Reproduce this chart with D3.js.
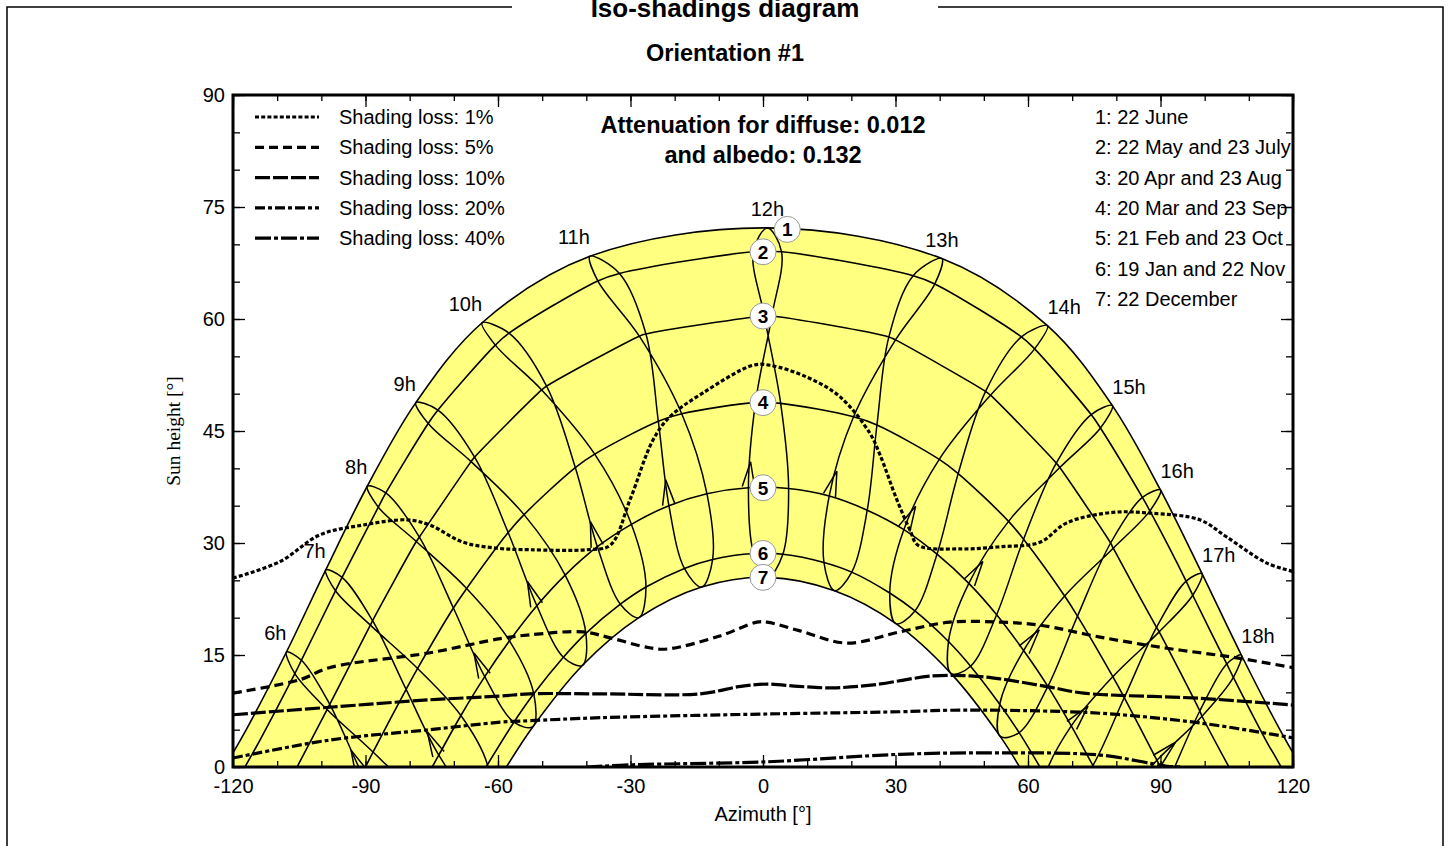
<!DOCTYPE html>
<html><head><meta charset="utf-8">
<script src="https://cdn.jsdelivr.net/npm/d3@7"></script>
<style>body{margin:0;background:#fff;overflow:hidden}</style>
</head><body>
<svg id="chart" width="1451" height="846"></svg>
<script>
// dates of the hour loops (Dec -> Nov) and the sun path they lie on
const dateNames = ['22 Dec','19 Jan','21 Feb','20 Mar','20 Apr','22 May','22 Jun','23 Jul','23 Aug','23 Sep','23 Oct','22 Nov'];
const curveOfDate = [7,6,5,4,3,2,1,2,3,4,5,6];
const hours = [5,6,7,8,9,10,11,12,13,14,15,16,17,18,19];

// sun azimuth [deg] per hour (rows) and date (columns)
const sunAz = [
  [-80.2,-84.9,-93.0,-100.8,-107.9,-113.8,-117.0,-115.4,-108.5,-98.2,-88.1,-81.1],
  [-71.3,-75.7,-83.2,-90.8,-98.1,-104.5,-107.9,-106.0,-98.7,-88.3,-78.4,-71.9],
  [-62.1,-66.4,-73.4,-80.8,-88.4,-95.3,-99.0,-96.8,-88.9,-78.2,-68.4,-62.4],
  [-52.1,-56.4,-63.0,-70.1,-77.8,-85.4,-89.6,-87.1,-78.5,-67.1,-57.4,-51.9],
  [-40.9,-45.2,-51.2,-57.7,-65.3,-73.6,-78.6,-75.8,-66.1,-54.1,-44.8,-40.1],
  [-28.1,-32.3,-37.5,-42.5,-49.0,-57.5,-63.6,-60.6,-50.1,-38.1,-29.8,-26.5],
  [-13.9,-17.8,-21.3,-23.7,-26.5,-32.5,-39.2,-37.4,-28.0,-18.4,-12.7,-11.4],
  [1.1,-2.1,-3.3,-1.7,2.0,4.2,1.0,-2.2,0.3,4.0,5.8,4.5],
  [16.2,13.8,15.0,20.5,30.0,38.9,40.5,34.0,28.5,25.8,23.6,20.1],
  [30.1,28.7,31.9,39.9,51.5,61.5,64.4,58.5,50.4,44.2,39.4,34.4],
  [42.6,42.0,46.6,55.6,67.2,76.4,79.1,74.3,66.4,59.0,52.9,47.0],
  [53.7,53.6,59.0,68.3,79.3,87.6,90.0,85.9,78.7,71.2,64.5,58.0],
  [63.5,63.9,69.8,79.2,89.7,97.3,99.4,95.8,89.1,81.8,74.7,67.9],
  [72.6,73.3,79.7,89.2,99.4,106.5,108.3,105.0,98.9,91.7,84.5,77.1],
  [81.5,82.5,89.4,99.2,109.3,115.9,117.4,114.3,108.7,101.8,94.3,86.4]
];
// sun height [deg], same layout
const sunH = [
  [-25.3,-25.7,-20.7,-12.1,-2.6,3.7,5.0,2.0,-3.2,-9.3,-15.1,-21.0],
  [-14.4,-14.6,-9.4,-0.9,8.4,14.3,15.4,12.5,7.7,2.0,-4.0,-10.1],
  [-4.0,-3.9,1.6,10.4,19.6,25.4,26.4,23.6,19.0,13.2,6.9,0.3],
  [5.4,6.0,12.1,21.3,30.8,36.7,37.6,34.8,30.2,23.9,16.9,9.8],
  [13.6,14.7,21.6,31.4,41.5,47.8,48.8,46.0,40.9,33.8,25.7,17.9],
  [20.0,21.8,29.5,40.1,51.0,58.1,59.5,56.5,50.5,41.9,32.5,24.1],
  [24.1,26.6,35.0,46.3,58.0,66.1,68.4,65.1,57.7,47.3,36.6,27.8],
  [25.4,28.6,37.4,48.8,60.4,69.0,72.2,69.0,60.4,48.7,37.3,28.5],
  [23.6,27.4,36.3,46.9,57.2,64.7,68.1,65.8,57.6,45.8,34.4,26.1],
  [19.2,23.3,31.8,41.2,49.8,56.0,59.1,57.6,50.3,39.3,28.5,20.9],
  [12.5,16.8,24.6,32.9,40.1,45.4,48.4,47.2,40.7,30.5,20.4,13.5],
  [4.1,8.4,15.6,22.9,29.3,34.3,37.1,36.1,30.0,20.2,10.8,4.6],
  [-5.5,-1.2,5.5,12.1,18.1,23.0,25.9,24.9,18.7,9.3,0.2,-5.5],
  [-16.0,-11.7,-5.4,0.9,6.8,12.0,15.0,13.8,7.5,-2.0,-10.9,-16.2],
  [-27.0,-22.8,-16.6,-10.4,-4.1,1.5,4.6,3.1,-3.4,-13.2,-22.2,-27.4]
];
// sunrise / sunset azimuth of each sun path 1..7
const sunriseAz = [121.9,117.3,105.5,90.0,74.9,62.7,58.1];

const curveLabels = ['1: 22 June','2: 22 May and 23 July','3: 20 Apr and 23 Aug','4: 20 Mar and 23 Sep',
                     '5: 21 Feb and 23 Oct','6: 19 Jan and 22 Nov','7: 22 December'];
const labelAz = [5.5,0,0,0,0,0,0];
const labelH = [72.0,69.0,60.4,48.8,37.4,28.6,25.4];

// iso-shading lines [azimuth, height]
const isoNames = ['Shading loss: 1%','Shading loss: 5%','Shading loss: 10%','Shading loss: 20%','Shading loss: 40%'];
const iso1 = [[-120,25.3],[-109.4,27.5],[-100.3,31.1],[-90.6,32.4],[-80.6,33.1],[-75.4,32.4],[-67.9,30.1],[-60.2,29.3],
  [-52.8,29.1],[-39.8,29.1],[-34.6,29.7],[-30.1,35.8],[-24.9,43.8],[-21.1,46.9],[-13.6,50.1],[-2.3,53.8],[1.6,53.8],
  [10,52.2],[17.4,49.6],[24.2,44.7],[26.5,41.8],[30.3,35.8],[33.3,31.7],[35.1,29.7],[44.6,29.2],[53.7,29.5],[62.7,30.1],
  [68.8,32.7],[79.2,34.1],[87.6,34.0],[98.9,33.1],[105,30.8],[114.1,27.3],[120,26.2]];
const iso5 = [[-120,9.9],[-104.8,11.7],[-98.2,13.3],[-75.4,15.3],[-59.5,17.2],[-52.8,17.7],[-40.8,18.1],[-34.6,17.3],
  [-26,16.0],[-21.7,15.8],[-10,17.5],[-1.4,19.4],[0.9,19.4],[8,18.3],[19,16.6],[31,18.1],[42.3,19.4],[53.7,19.4],
  [62.7,19.0],[76.3,17.4],[91.5,15.9],[106.4,14.7],[120,13.3]];
const iso10 = [[-120,7.0],[-98.2,8.0],[-75.4,9.0],[-59.5,9.5],[-52.8,9.8],[-36.9,9.8],[-14.3,9.8],[-5,10.8],[0.9,11.1],
  [8,10.8],[15.8,10.6],[25,11.0],[38.5,12.2],[47,12.2],[53.7,11.8],[65,10.7],[72.5,9.9],[98.9,9.2],[120,8.3]];
const iso20 = [[-120,1.2],[-98.2,3.6],[-75.4,5.0],[-59.5,6.0],[-52.8,6.2],[-36.9,6.6],[0.9,7.1],[31,7.4],[42,7.6],
  [53.7,7.6],[76.3,7.2],[98.9,5.9],[120,3.9]];
const iso40 = [[-40,0],[-29.4,0.3],[0.9,0.7],[31,1.7],[53.7,1.9],[76.3,1.6],[87.6,0.5],[91.5,0.1],[95,0]];
const isoLines = [iso1,iso5,iso10,iso20,iso40];
const isoDash = ['4,2.2','9,5','15,3','10,3,4,3','16,3,4,3'];

const xTicks = [-120,-90,-60,-30,0,30,60,90,120];
const yTicks = [0,15,30,45,60,75,90];

const font = "'Liberation Sans', Arial, sans-serif";
const W = 1060, H = 672, mLeft = 233, mTop = 95;

const svg = d3.select('#chart');

// outer frame with title gap
svg.append('path')
  .attr('d','M7,846 L7,7 L512,7 M938,7 L1443,7 L1443,846')
  .attr('fill','none').attr('stroke','#000').attr('stroke-width',1.5);
svg.append('text').text('Iso-shadings diagram').attr('x',725).attr('y',17)
  .attr('text-anchor','middle').attr('font-family',font).attr('font-weight','bold').attr('font-size',26);
svg.append('text').text('Orientation #1').attr('x',725).attr('y',61)
  .attr('text-anchor','middle').attr('font-family',font).attr('font-weight','bold').attr('font-size',23.5);

const x = d3.scaleLinear().domain([-120,120]).range([0,W]);
const y = d3.scaleLinear().domain([0,90]).range([H,0]);

const g = svg.append('g').attr('transform',`translate(${mLeft},${mTop})`);
svg.append('defs').append('clipPath').attr('id','plotClip')
  .append('rect').attr('width',W).attr('height',H);
const plot = g.append('g').attr('clip-path','url(#plotClip)');

const line = d3.line().x(d=>x(d[0])).y(d=>y(d[1])).curve(d3.curveCatmullRom.alpha(0.5));
const loopLine = d3.line().x(d=>x(d[0])).y(d=>y(d[1])).curve(d3.curveCatmullRomClosed.alpha(0.5));

// points of one sun path, from all dates lying on it
function pathPoints(c){
  const pts = [[-sunriseAz[c-1],0],[sunriseAz[c-1],0]];
  curveOfDate.forEach((cc,j)=>{
    if(cc!==c) return;
    hours.forEach((hr,i)=>{ if(sunH[i][j]>=0) pts.push([sunAz[i][j],sunH[i][j]]); });
  });
  return pts.sort((a,b)=>a[0]-b[0]);
}

// yellow band between 22 June and 22 December
const outer = line(pathPoints(1));
const inner = line(pathPoints(7).reverse());
plot.append('path').attr('d',outer+'L'+inner.slice(1)+'Z')
  .attr('fill','#ffff80').attr('stroke','none');

// sun paths
for(let c=1;c<=7;c++){
  plot.append('path').attr('d',line(pathPoints(c)))
    .attr('fill','none').attr('stroke','#000').attr('stroke-width',1.6);
}

// hour loops with direction arrow
hours.forEach((hr,i)=>{
  if(hr<6||hr>18) return;
  const pts = dateNames.map((d,j)=>[sunAz[i][j],sunH[i][j]]);
  plot.append('path').attr('d',loopLine(pts))
    .attr('fill','none').attr('stroke','#000').attr('stroke-width',1.5);
  let b = 2;
  while(b<5 && sunH[i][b]<=-2) b++;
  const x0=x(pts[b][0]), y0=y(pts[b][1]), x1=x(pts[b+1][0]), y1=y(pts[b+1][1]);
  const len=Math.hypot(x1-x0,y1-y0), ux=(x1-x0)/len, uy=(y1-y0)/len;
  const ax=x0+26*ux, ay=y0+26*uy, a=14*Math.PI/180;
  const arm = s=>{
    const c=Math.cos(s*a), sn=Math.sin(s*a);
    return [ax-26*(ux*c-uy*sn), ay-26*(ux*sn+uy*c)];
  };
  const p1=arm(1), p2=arm(-1);
  plot.append('path').attr('d',`M${p1}L${ax},${ay}L${p2}`)
    .attr('fill','none').attr('stroke','#000').attr('stroke-width',1.5);
});

// iso-shading lines
isoLines.forEach((pts,k)=>{
  plot.append('path').attr('d',line(pts))
    .attr('fill','none').attr('stroke','#000').attr('stroke-width',3.2)
    .attr('stroke-dasharray',isoDash[k]);
});

// hour labels at the 22 June point
hours.forEach((hr,i)=>{
  if(hr<6||hr>18) return;
  const px=x(sunAz[i][6]), py=y(sunH[i][6]);
  g.append('text').text(hr+'h').attr('x',px).attr('y',py-12)
    .attr('text-anchor',hr<12?'end':(hr<=13?'middle':'start'))
    .attr('font-family',font).attr('font-size',20);
});

// numbered circles on the sun paths
labelAz.forEach((az,k)=>{
  const cg = g.append('g').attr('transform',`translate(${x(az)},${y(labelH[k])})`);
  cg.append('circle').attr('r',13).attr('fill','#fff').attr('stroke','#999').attr('stroke-width',1);
  cg.append('text').text(k+1).attr('y',6.8).attr('text-anchor','middle')
    .attr('font-family',font).attr('font-weight','bold').attr('font-size',19);
});

// legend of iso lines
isoNames.forEach((t,k)=>{
  const ly = 22+k*30.3;
  g.append('line').attr('x1',22).attr('x2',86).attr('y1',ly).attr('y2',ly)
    .attr('stroke','#000').attr('stroke-width',3.2).attr('stroke-dasharray',isoDash[k]);
  g.append('text').text(t).attr('x',106).attr('y',ly+7)
    .attr('font-family',font).attr('font-size',20);
});

// attenuation text
g.append('text').text('Attenuation for diffuse: 0.012').attr('x',x(0)).attr('y',38)
  .attr('text-anchor','middle').attr('font-family',font).attr('font-weight','bold').attr('font-size',23.5);
g.append('text').text('and albedo: 0.132').attr('x',x(0)).attr('y',68)
  .attr('text-anchor','middle').attr('font-family',font).attr('font-weight','bold').attr('font-size',23.5);

// date list, cut by the frame
const dl = g.append('g').attr('clip-path','url(#plotClip)');
curveLabels.forEach((t,k)=>{
  dl.append('text').text(t).attr('x',862).attr('y',29+k*30.3)
    .attr('font-family',font).attr('font-size',20);
});

// axes, ticks pointing inward
function styleAxis(sel){
  sel.select('.domain').remove();
  sel.selectAll('.tick line').attr('stroke','#000').attr('stroke-width',1.3);
  sel.selectAll('.tick text').attr('font-family',font).attr('font-size',20).attr('fill','#000');
}
const minorX = d3.range(-120,121,10), minorY = d3.range(0,91,5);
g.append('g').attr('transform',`translate(0,${H})`)
  .call(d3.axisBottom(x).tickValues(minorX).tickSize(-6).tickFormat('')).call(styleAxis);
g.append('g').attr('transform',`translate(0,${H})`)
  .call(d3.axisBottom(x).tickValues(xTicks).tickSize(-12).tickPadding(12).tickFormat(d=>String(d))).call(styleAxis);
g.append('g').call(d3.axisTop(x).tickValues(minorX).tickSize(-6).tickFormat('')).call(styleAxis);
g.append('g').call(d3.axisTop(x).tickValues(xTicks).tickSize(-12).tickFormat('')).call(styleAxis);
g.append('g').call(d3.axisLeft(y).tickValues(minorY).tickSize(-7).tickFormat('')).call(styleAxis);
g.append('g').call(d3.axisLeft(y).tickValues(yTicks).tickSize(-12).tickPadding(8).tickFormat(d=>String(d))).call(styleAxis);
g.append('g').attr('transform',`translate(${W},0)`)
  .call(d3.axisRight(y).tickValues(minorY).tickSize(-7).tickFormat('')).call(styleAxis);
g.append('g').attr('transform',`translate(${W},0)`)
  .call(d3.axisRight(y).tickValues(yTicks).tickSize(-12).tickFormat('')).call(styleAxis);

g.append('rect').attr('width',W).attr('height',H)
  .attr('fill','none').attr('stroke','#000').attr('stroke-width',3);

g.append('text').text('Azimuth [°]').attr('x',W/2).attr('y',H+54)
  .attr('text-anchor','middle').attr('font-family',font).attr('font-size',20);
g.append('text').text('Sun height [°]')
  .attr('transform','translate(-53,336) rotate(-90)')
  .attr('text-anchor','middle').attr('font-family',"'Liberation Serif', 'Times New Roman', serif").attr('font-size',19.5);
</script></body></html>
